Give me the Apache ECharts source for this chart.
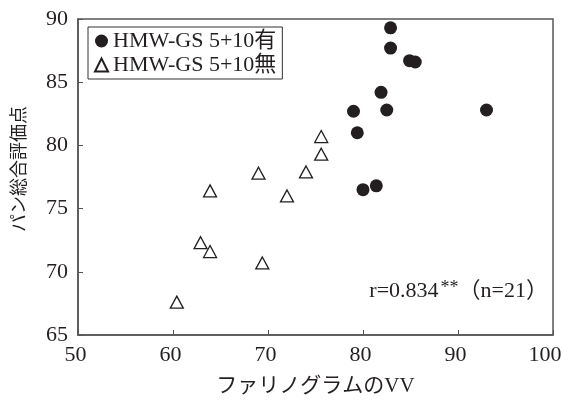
<!DOCTYPE html>
<html>
<head>
<meta charset="utf-8">
<script src="https://cdn.jsdelivr.net/npm/echarts@6/dist/echarts.min.js"></script>
<style>
  html, body { margin: 0; padding: 0; background: #fff; }
  #chart { width: 562px; height: 401px; }
</style>
</head>
<body>
<div id="chart"></div>
<script>
// Farinograph VV vs. total bread score, split by HMW-GS 5+10 presence
const withName = 'HMW-GS 5+10有';
const withoutName = 'HMW-GS 5+10無';

const withVV    = [82.9, 82.9, 84.9, 85.5, 81.9, 79.0, 82.5, 93.0, 79.4, 80.0, 81.4];
const withScore = [89.3, 87.7, 86.7, 86.6, 84.2, 82.7, 82.8, 82.8, 81.0, 76.5, 76.8];

const withoutVV    = [75.6, 75.6, 69.0, 74.0, 63.9, 72.0, 62.9, 63.9, 69.4, 60.4];
const withoutScore = [80.7, 79.3, 77.8, 77.9, 76.4, 76.0, 72.3, 71.6, 70.7, 67.6];

const xTicks = { min: 50, max: 100, step: 10 };
const yTicks = { min: 65, max: 90, step: 5 };

const pairs = (xs, ys) => xs.map((x, i) => [x, ys[i]]);

const serif = '"Liberation Serif", "DejaVu Serif", "Noto Sans CJK JP", serif';
const ink = '#231f20';

const chart = echarts.init(document.getElementById('chart'), null, { renderer: 'canvas' });
chart.setOption({
  animation: false,
  backgroundColor: '#fff',
  textStyle: { fontFamily: serif, color: ink },
  grid: {
    left: 78, right: 9, top: 19, bottom: 66,
    outerBoundsMode: 'none',
    show: true, borderColor: '#555', borderWidth: 1.5
  },
  legend: {
    orient: 'vertical',
    left: 88, top: 27,
    padding: [3, 6, 3, 6],
    itemGap: 2,
    itemWidth: 13, itemHeight: 13,
    borderColor: '#333', borderWidth: 1,
    textStyle: { fontFamily: serif, fontSize: 22, color: ink },
    data: [withName, withoutName]
  },
  xAxis: {
    type: 'value',
    min: xTicks.min, max: xTicks.max, interval: xTicks.step,
    name: 'ファリノグラムのVV',
    nameLocation: 'middle', nameGap: 41,
    nameTextStyle: { fontFamily: serif, fontSize: 21, color: ink },
    axisLine: { lineStyle: { color: '#555', width: 1.5 } },
    axisTick: { inside: true, length: 5, lineStyle: { color: '#555' } },
    axisLabel: {
      fontFamily: serif, fontSize: 22, color: ink, margin: 9,
      // last label is nudged inward so it stays on the canvas
      formatter: v => (v === xTicks.max ? '{m|' + v + '}' : '{n|' + v + '}'),
      rich: {
        n: { fontFamily: serif, fontSize: 22, color: ink, padding: [0, 5, 0, 0] },
        m: { fontFamily: serif, fontSize: 22, color: ink, padding: [0, 16, 0, 0] }
      }
    },
    splitLine: { show: false }
  },
  yAxis: {
    type: 'value',
    min: yTicks.min, max: yTicks.max, interval: yTicks.step,
    name: 'パン総合評価点',
    nameLocation: 'middle', nameGap: 49,
    nameTextStyle: { fontFamily: serif, fontSize: 18, color: ink, padding: [0, 0, 0, 16] },
    axisLine: { lineStyle: { color: '#555', width: 1.5 } },
    axisTick: { inside: true, length: 5, lineStyle: { color: '#555' } },
    axisLabel: { fontFamily: serif, fontSize: 22, color: ink, margin: 10 },
    splitLine: { show: false }
  },
  graphic: [{
    type: 'text',
    right: 14, top: 279,
    style: {
      text: '{a|r=0.834}{s|**}{a|（n=21）}',
      rich: {
        a: { fontFamily: serif, fontSize: 22, fill: ink },
        s: { fontFamily: serif, fontSize: 18, fill: ink, verticalAlign: 'top', padding: [0, 0, 6, 2] }
      }
    }
  }],
  series: [
    {
      name: withName,
      type: 'scatter',
      symbol: 'circle',
      symbolSize: 13,
      itemStyle: { color: ink, opacity: 1 },
      data: pairs(withVV, withScore)
    },
    {
      name: withoutName,
      type: 'scatter',
      symbol: 'triangle',
      symbolSize: [13, 12],
      itemStyle: { color: '#fff', borderColor: ink, borderWidth: 1.3, opacity: 1 },
      data: pairs(withoutVV, withoutScore)
    }
  ]
});
</script>
</body>
</html>
